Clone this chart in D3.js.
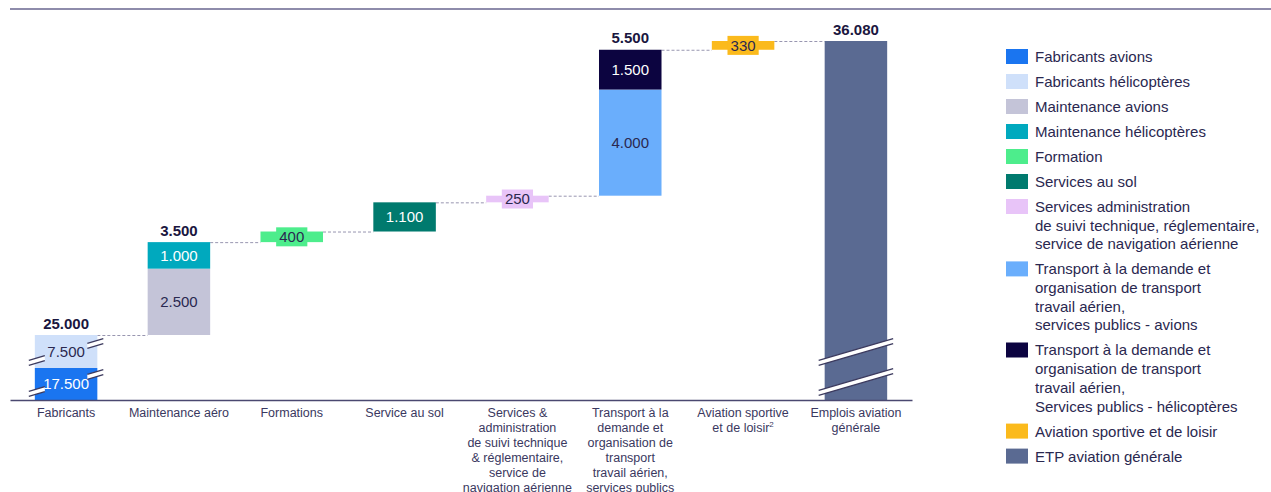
<!DOCTYPE html>
<html>
<head>
  <meta charset="utf-8">
  <title>Emplois aviation générale</title>
  <script src="https://d3js.org/d3.v7.min.js"></script>
  <style>
    body { margin: 0; background: #fff; }
    text { font-family: "Liberation Sans", Arial, sans-serif; }
  </style>
</head>
<body>
  <div id="chart"></div>
  <script type="text/javascript">

  // categories on the x axis (line breaks as in the original)
  var categories = [
    "Fabricants",
    "Maintenance aéro",
    "Formations",
    "Service au sol",
    "Services &\nadministration\nde suivi technique\n& réglementaire,\nservice de\nnavigation aérienne",
    "Transport à la\ndemande et\norganisation de\ntransport\ntravail aérien,\nservices publics",
    "Aviation sportive\net de loisir²",
    "Emplois aviation\ngénérale"
  ];

  // legend series
  var seriesNames = [
    "Fabricants avions",
    "Fabricants hélicoptères",
    "Maintenance avions",
    "Maintenance hélicoptères",
    "Formation",
    "Services au sol",
    "Services administration\nde suivi technique, réglementaire,\nservice de navigation aérienne",
    "Transport à la demande et\norganisation de transport\ntravail aérien,\nservices publics - avions",
    "Transport à la demande et\norganisation de transport\ntravail aérien,\nServices publics - hélicoptères",
    "Aviation sportive et de loisir",
    "ETP aviation générale"
  ];
  var palette = ["#1a75f0", "#cfe0fa", "#c4c4d8", "#00a9be", "#4ded8c", "#007a6e",
                 "#e8c4f8", "#6aaefc", "#0c0440", "#fbba1c", "#5a6a92"];

  // one value per series, and the category it belongs to
  var segCategory = [0, 0, 1, 1, 2, 3, 4, 5, 5, 6, 7];
  var segValues   = [17500, 7500, 2500, 1000, 400, 1100, 250, 4000, 1500, 330, 36080];

  // bold totals shown above some columns
  var totalCategory = [0, 1, 5, 7];
  var totalValues   = [25000, 3500, 5500, 36080];

  var W = 1271, H = 492;
  var svg = d3.select("#chart").append("svg").attr("width", W).attr("height", H);

  var fmt = d3.formatLocale({decimal: ",", thousands: ".", grouping: [3], currency: ["", ""]}).format(",d");

  var x = d3.scaleBand().domain(d3.range(categories.length))
    .range([10, 912]).paddingInner(0.446).paddingOuter(0.22);
  // broken axis: the first 25.000 are squeezed
  var y = d3.scaleLinear().domain([0, 17500, 25000, 36080]).range([400, 368, 335, 41]);

  // waterfall segments
  var run = 0;
  var segs = segValues.map(function(v, i) {
    var c = segCategory[i];
    var start = (c === categories.length - 1) ? 0 : run;
    var end = start + v;
    if (c !== categories.length - 1) run = end;
    return {i: i, c: c, v: v, y0: start, y1: end, color: palette[i]};
  });

  // top rule
  svg.append("line").attr("x1", 10).attr("x2", W).attr("y1", 9).attr("y2", 9)
    .attr("stroke", "#8e8cab").attr("stroke-width", 2);

  // dashed connectors
  var catTop = d3.rollup(segs, function(s) { return d3.max(s, function(d) { return d.y1; }); }, function(d) { return d.c; });
  var conn = d3.range(categories.length - 1).map(function(c) { return {c: c, v: catTop.get(c)}; });
  svg.selectAll("line.conn").data(conn).enter().append("line").attr("class", "conn")
    .attr("x1", function(d) { return x(d.c) + x.bandwidth(); })
    .attr("x2", function(d) { return x(d.c + 1); })
    .attr("y1", function(d) { return y(d.v) + 0.5; })
    .attr("y2", function(d) { return y(d.v) + 0.5; })
    .attr("stroke", "#9896b0").attr("stroke-width", 1).attr("stroke-dasharray", "3,2");

  svg.selectAll("rect.seg").data(segs).enter().append("rect").attr("class", "seg")
    .attr("x", function(d) { return x(d.c); })
    .attr("width", x.bandwidth())
    .attr("y", function(d) { return y(d.y1); })
    .attr("height", function(d) { return y(d.y0) - y(d.y1); })
    .attr("fill", function(d) { return d.color; });

  // break marks (axis breaks)
  function breakBand(c, cy, edgesOnly) {
    var x0 = x(c), x1 = x(c) + x.bandwidth();
    var slope = -0.29, gap = 5, ext = 6;
    function yy(px) { return cy + (px - (x0 + x1) / 2) * slope; }
    var pieces = edgesOnly ? [[x0 - ext, x0 + 10], [x1 - 10, x1 + ext]] : [[x0 - ext, x1 + ext]];
    pieces.forEach(function(p) {
      var a = p[0], b = p[1];
      svg.append("polygon")
        .attr("points", [[a, yy(a) - gap / 2], [b, yy(b) - gap / 2], [b, yy(b) + gap / 2], [a, yy(a) + gap / 2]].join(" "))
        .attr("fill", "#fff");
      [-gap / 2, gap / 2].forEach(function(o) {
        svg.append("line").attr("x1", a).attr("x2", b)
          .attr("y1", yy(a) + o).attr("y2", yy(b) + o)
          .attr("stroke", "#3c3a5e").attr("stroke-width", 1.3);
      });
    });
  }
  breakBand(0, 352, true);
  breakBand(0, 383, true);
  breakBand(7, 352, false);
  breakBand(7, 382, false);

  // value labels
  segs.forEach(function(d) {
    if (d.c === categories.length - 1) return;
    var cx = x(d.c) + x.bandwidth() / 2;
    var cy = (y(d.y0) + y(d.y1)) / 2;
    var h = y(d.y0) - y(d.y1);
    var dark = d3.lab(d.color).l < 66;
    var label = fmt(d.v);
    if (h < 18) {
      var bw = label.length * 8.4 + 6;
      svg.append("rect").attr("x", cx - bw / 2).attr("y", cy - 9.5)
        .attr("width", bw).attr("height", 19).attr("fill", d.color);
    }
    svg.append("text").attr("x", cx).attr("y", cy).attr("dy", "0.36em")
      .attr("text-anchor", "middle").attr("font-size", 15)
      .attr("fill", dark ? "#ffffff" : "#2a2850")
      .text(label);
  });

  // totals
  svg.selectAll("text.total").data(totalCategory).enter().append("text").attr("class", "total")
    .attr("x", function(c) { return x(c) + x.bandwidth() / 2; })
    .attr("y", function(c, i) { return y(catTop.get(c)) - 6.5; })
    .attr("text-anchor", "middle").attr("font-size", 15).attr("font-weight", "bold")
    .attr("fill", "#1a1640")
    .text(function(c, i) { return fmt(totalValues[i]); });

  // x axis
  var axis = svg.append("g").attr("transform", "translate(0,400)")
    .call(d3.axisBottom(x).tickSize(0).tickPadding(8).tickSizeOuter(0));
  axis.select(".domain").attr("stroke", "#4a4870").attr("stroke-width", 1.5);
  axis.selectAll(".tick text").each(function(i) {
    var t = d3.select(this).text(null).attr("font-size", 12.5).attr("fill", "#3a3860")
      .attr("font-family", "'Liberation Sans', Arial, sans-serif");
    categories[i].split("\n").forEach(function(line, k) {
      var sp = t.append("tspan").attr("x", 0).attr("dy", k === 0 ? "0.71em" : "15px");
      if (line.indexOf("²") >= 0) {
        sp.text(line.replace("²", ""));
        t.append("tspan").attr("font-size", 8).attr("dy", "-5px").text("2");
      } else {
        sp.text(line);
      }
    });
  });

  // legend
  var lineH = 18.7, ly = 56.5;
  seriesNames.forEach(function(name, i) {
    var lines = name.split("\n");
    var g = svg.append("g").attr("transform", "translate(1006," + ly + ")");
    g.append("rect").attr("x", 0).attr("y", -7.5).attr("width", 22).attr("height", 15).attr("fill", palette[i]);
    var t = g.append("text").attr("x", 29).attr("y", 0).attr("font-size", 15).attr("fill", "#2a2850");
    lines.forEach(function(line, k) {
      t.append("tspan").attr("x", 29).attr("dy", k === 0 ? "0.36em" : lineH + "px").text(line);
    });
    ly += (lines.length - 1) * lineH + 25;
  });

  </script>
</body>
</html>
